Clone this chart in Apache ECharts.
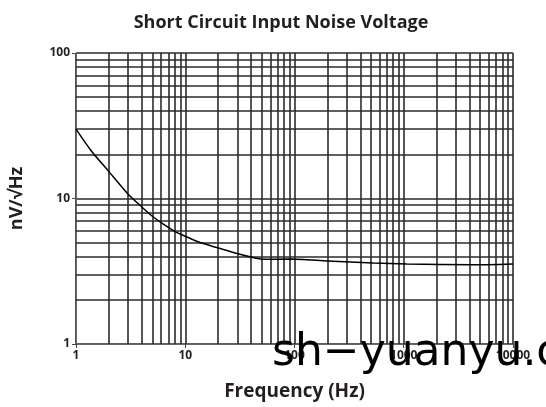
<!DOCTYPE html>
<html><head><meta charset="utf-8">
<script src="https://cdn.jsdelivr.net/npm/echarts@6/dist/echarts.min.js"></script>
<style>html,body{margin:0;padding:0;background:#fff}#c{width:546px;height:407px}</style>
</head><body><div id="c"></div>
<script>
var freqHz = [1, 1.37, 2, 3, 4, 5, 6.5, 8, 10, 13.5, 19.4, 28.6, 40, 52, 91, 200, 525, 1070, 4300, 10000];
var noiseNv = [30, 21.4, 15.3, 10.7, 8.75, 7.55, 6.55, 5.95, 5.5, 5.0, 4.6, 4.22, 3.96, 3.82, 3.84, 3.72, 3.6, 3.55, 3.5, 3.55];
var xMinorGrid = [2,3,4,5,6,7,8,9,20,30,40,50,60,70,80,90,200,300,400,500,600,700,800,900,2000,3000,4000,5000,6000,7000,8000,9000];
var yMinorGrid = [2,3,4,5,6,7,8,9,20,30,40,50,60,70,80,90];
var xTickLabels = {1: '1', 10: '10', 100: '100', 1000: '1000', 10000: '10000'};
var titleText = 'Short Circuit Input Noise Voltage';
var xName = 'Frequency (Hz)';
var yName = 'nV/√Hz';
var watermark = 'sh−yuanyu.com';

var gridColor = '#2b2b2b';
var chart = echarts.init(document.getElementById('c'), null, {renderer: 'canvas'});
var mlData = [];
xMinorGrid.forEach(function(v){ mlData.push({xAxis: v}); });
yMinorGrid.forEach(function(v){ mlData.push({yAxis: v}); });

chart.setOption({
  animation: false,
  backgroundColor: '#fff',
  title: {text: titleText, left: 276, top: 9, textAlign: 'center',
    textStyle: {fontFamily: 'Open Sans', fontWeight: 'bold', fontSize: 18, color: '#231f20'}},
  grid: {left: 76, right: 33, top: 53, bottom: 63},
  xAxis: {type: 'log', logBase: 10, min: 1, max: 10000,
    name: xName, nameLocation: 'middle', nameGap: 38,
    nameTextStyle: {fontFamily: 'Open Sans', fontWeight: 'bold', fontSize: 19, color: '#231f20'},
    axisLine: {show: true, lineStyle: {color: '#666', width: 1}},
    axisTick: {show: true, length: 4, inside: false, lineStyle: {color: '#444'}},
    axisLabel: {fontFamily: 'Open Sans', fontWeight: 'bold', fontSize: 12, color: '#231f20', margin: 6,
      formatter: function(v){ var k = Math.round(v); return xTickLabels[k] || String(k); }},
    splitLine: {show: true, lineStyle: {color: gridColor, width: 1.6}}
  },
  yAxis: {type: 'log', logBase: 10, min: 1, max: 100,
    name: yName, nameLocation: 'middle', nameGap: 50, nameRotate: 90,
    nameTextStyle: {fontFamily: 'Open Sans', fontWeight: 'bold', fontSize: 18, color: '#231f20'},
    axisLine: {show: true, lineStyle: {color: '#666', width: 1}},
    axisTick: {show: true, length: 4, lineStyle: {color: '#444'}},
    axisLabel: {fontFamily: 'Open Sans', fontWeight: 'bold', fontSize: 12, color: '#231f20', margin: 6},
    splitLine: {show: true, lineStyle: {color: gridColor, width: 1.6}}
  },
  series: [{
    type: 'line', data: freqHz.map(function(f, i){ return [f, noiseNv[i]]; }),
    smooth: 0.2, symbol: 'none', lineStyle: {color: '#000', width: 1.5}, z: 5,
    markLine: {silent: true, symbol: 'none', label: {show: false},
      lineStyle: {color: gridColor, width: 1.6, type: 'solid'}, data: mlData, z: 1}
  }],
  graphic: [{type: 'text', left: 272, top: 332, z: 100,
    style: {text: watermark, fontFamily: 'DejaVu Sans', fontSize: 44, fill: '#000'}}]
});
</script></body></html>
